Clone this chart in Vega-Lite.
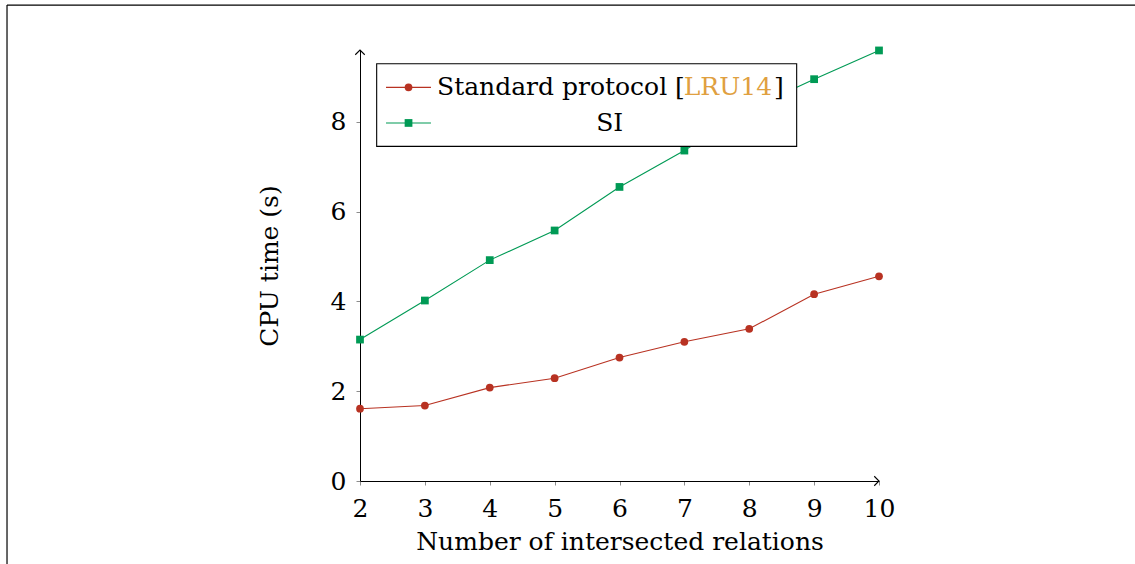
{
  "$schema": "https://vega.github.io/schema/vega-lite/v6.json",
  "width": 519,
  "height": 431,
  "autosize": {"type": "none"},
  "padding": {"left": 360, "top": 50, "right": 256, "bottom": 83},
  "background": "white",
  "config": {
    "view": {"stroke": null},
    "font": "DejaVu Serif",
    "axis": {
      "labelFont": "DejaVu Serif",
      "titleFont": "DejaVu Serif",
      "labelFontSize": 25,
      "titleFontSize": 25,
      "labelColor": "#000000",
      "titleColor": "#000000",
      "titleFontWeight": "normal",
      "domainColor": "#000000",
      "domainWidth": 1,
      "tickColor": "#8c8c8c",
      "tickWidth": 1,
      "tickSize": 4,
      "grid": false
    }
  },
  "datasets": {
    "timings": [
      {"n": 2, "series": "Standard protocol", "t": 1.61},
      {"n": 3, "series": "Standard protocol", "t": 1.68},
      {"n": 4, "series": "Standard protocol", "t": 2.08},
      {"n": 5, "series": "Standard protocol", "t": 2.29},
      {"n": 6, "series": "Standard protocol", "t": 2.75},
      {"n": 7, "series": "Standard protocol", "t": 3.10},
      {"n": 8, "series": "Standard protocol", "t": 3.39},
      {"n": 9, "series": "Standard protocol", "t": 4.16},
      {"n": 10, "series": "Standard protocol", "t": 4.56},
      {"n": 2, "series": "SI", "t": 3.15},
      {"n": 3, "series": "SI", "t": 4.02},
      {"n": 4, "series": "SI", "t": 4.92},
      {"n": 5, "series": "SI", "t": 5.58},
      {"n": 6, "series": "SI", "t": 6.55},
      {"n": 7, "series": "SI", "t": 7.36},
      {"n": 8, "series": "SI", "t": 8.28},
      {"n": 9, "series": "SI", "t": 8.95},
      {"n": 10, "series": "SI", "t": 9.59}
    ]
  },
  "layer": [
    {
      "data": {"name": "timings"},
      "mark": {"type": "line", "strokeWidth": 1.1},
      "encoding": {
        "x": {
          "field": "n", "type": "quantitative",
          "scale": {"domain": [2, 10], "nice": false, "zero": false},
          "axis": {"title": "Number of intersected relations", "values": [2, 3, 4, 5, 6, 7, 8, 9, 10], "format": "d", "labelPadding": 11, "titlePadding": 8, "labelFlush": false}
        },
        "y": {
          "field": "t", "type": "quantitative",
          "scale": {"domain": [0, 9.6], "nice": false},
          "axis": {"title": "CPU time (s)", "values": [0, 2, 4, 6, 8], "format": "d", "labelPadding": 10, "titlePadding": 48, "labelFlush": false}
        },
        "color": {
          "field": "series", "type": "nominal",
          "scale": {"domain": ["Standard protocol", "SI"], "range": ["#b83222", "#009a55"]},
          "legend": null
        }
      }
    },
    {
      "data": {"name": "timings"},
      "transform": [{"filter": "datum.series === 'Standard protocol'"}],
      "mark": {"type": "point", "shape": "circle", "filled": true, "size": 60, "opacity": 1, "color": "#b83222"},
      "encoding": {
        "x": {"field": "n", "type": "quantitative", "title": "Number of intersected relations"},
        "y": {"field": "t", "type": "quantitative", "title": "CPU time (s)"}
      }
    },
    {
      "data": {"name": "timings"},
      "transform": [{"filter": "datum.series === 'SI'"}],
      "mark": {"type": "point", "shape": "square", "filled": true, "size": 60, "opacity": 1, "color": "#009a55"},
      "encoding": {
        "x": {"field": "n", "type": "quantitative", "title": "Number of intersected relations"},
        "y": {"field": "t", "type": "quantitative", "title": "CPU time (s)"}
      }
    },
    {
      "data": {"values": [{}]},
      "layer": [
        {
          "mark": {"type": "rule", "color": "#000000", "strokeWidth": 1.2},
          "encoding": {
            "x": {"datum": -3.441, "type": "quantitative"},
            "y": {"datum": -3, "type": "quantitative"},
            "y2": {"datum": 10.6}
          }
        },
        {
          "mark": {"type": "rule", "color": "#000000", "strokeWidth": 1.2},
          "encoding": {
            "x": {"datum": -3.441, "type": "quantitative"},
            "x2": {"datum": 14},
            "y": {"datum": 10.6, "type": "quantitative"}
          }
        },
        {
          "mark": {"type": "point", "shape": "M-1,1L0,0L1,1", "filled": false, "stroke": "#000000", "strokeWidth": 1.1, "size": 90, "opacity": 1},
          "encoding": {
            "x": {"datum": 2, "type": "quantitative"},
            "y": {"datum": 9.6, "type": "quantitative"}
          }
        },
        {
          "mark": {"type": "point", "shape": "M-1,-1L0,0L-1,1", "filled": false, "stroke": "#000000", "strokeWidth": 1.1, "size": 90, "opacity": 1},
          "encoding": {
            "x": {"datum": 10, "type": "quantitative"},
            "y": {"datum": 0, "type": "quantitative"}
          }
        },
        {
          "mark": {"type": "rect", "fill": "#ffffff", "stroke": "#000000", "strokeWidth": 1.1},
          "encoding": {
            "x": {"datum": 2.257, "type": "quantitative"},
            "x2": {"datum": 8.731},
            "y": {"datum": 9.294, "type": "quantitative"},
            "y2": {"datum": 7.454}
          }
        },
        {
          "mark": {"type": "rule", "color": "#b83222", "strokeWidth": 1.1},
          "encoding": {
            "x": {"datum": 2.401, "type": "quantitative"},
            "x2": {"datum": 3.094},
            "y": {"datum": 8.768, "type": "quantitative"}
          }
        },
        {
          "mark": {"type": "point", "shape": "circle", "filled": true, "size": 60, "opacity": 1, "color": "#b83222"},
          "encoding": {
            "x": {"datum": 2.748, "type": "quantitative"},
            "y": {"datum": 8.768, "type": "quantitative"}
          }
        },
        {
          "mark": {"type": "rule", "color": "#009a55", "strokeWidth": 1.1},
          "encoding": {
            "x": {"datum": 2.401, "type": "quantitative"},
            "x2": {"datum": 3.094},
            "y": {"datum": 7.975, "type": "quantitative"}
          }
        },
        {
          "mark": {"type": "point", "shape": "square", "filled": true, "size": 60, "opacity": 1, "color": "#009a55"},
          "encoding": {
            "x": {"datum": 2.748, "type": "quantitative"},
            "y": {"datum": 7.975, "type": "quantitative"}
          }
        },
        {
          "mark": {"type": "text", "text": "Standard protocol [", "align": "left", "baseline": "middle", "fontSize": 25, "color": "#000000"},
          "encoding": {
            "x": {"datum": 3.187, "type": "quantitative"},
            "y": {"datum": 8.768, "type": "quantitative"}
          }
        },
        {
          "mark": {"type": "text", "text": "LRU14", "align": "left", "baseline": "middle", "fontSize": 25, "color": "#e0a040"},
          "encoding": {
            "x": {"datum": 6.99, "type": "quantitative"},
            "y": {"datum": 8.768, "type": "quantitative"}
          }
        },
        {
          "mark": {"type": "text", "text": "]", "align": "left", "baseline": "middle", "fontSize": 25, "color": "#000000"},
          "encoding": {
            "x": {"datum": 8.38, "type": "quantitative"},
            "y": {"datum": 8.768, "type": "quantitative"}
          }
        },
        {
          "mark": {"type": "text", "text": "SI", "align": "center", "baseline": "middle", "fontSize": 25, "color": "#000000"},
          "encoding": {
            "x": {"datum": 5.849, "type": "quantitative"},
            "y": {"datum": 7.975, "type": "quantitative"}
          }
        }
      ]
    }
  ]
}
